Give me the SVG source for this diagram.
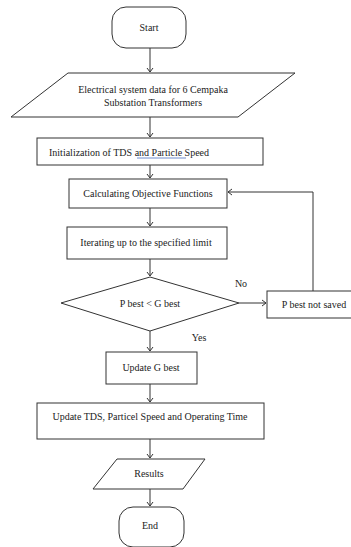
<svg xmlns="http://www.w3.org/2000/svg" width="351" height="547" viewBox="0 0 351 547">
<defs>
<marker id="arr" markerWidth="8" markerHeight="8" refX="4" refY="4" orient="auto" markerUnits="userSpaceOnUse">
<path d="M0,1 L4,4 L0,7" fill="none" stroke="#333" stroke-width="1"/>
</marker>
<style>
.s{fill:#fff;stroke:#333;stroke-width:1}
.t{font-family:"Liberation Serif","Times New Roman",serif;font-size:10px;fill:#222;text-anchor:middle}
.c{fill:none;stroke:#333;stroke-width:1;marker-end:url(#arr)}
.l{fill:none;stroke:#333;stroke-width:1}
</style>
</defs>
<rect width="351" height="547" fill="#fff"/>
<g id="connectors">
<line class="c" x1="150" y1="48" x2="150" y2="72"/>
<line class="c" x1="150" y1="117" x2="150" y2="137"/>
<line class="c" x1="150" y1="165" x2="150" y2="178"/>
<line class="c" x1="150" y1="208" x2="150" y2="226"/>
<line class="c" x1="150" y1="259" x2="150" y2="276"/>
<line class="c" x1="239" y1="303" x2="266" y2="303"/>
<polyline class="c" points="313,291 313,192 228,192"/>
<line class="c" x1="150" y1="331" x2="150" y2="351"/>
<line class="c" x1="150" y1="384" x2="150" y2="402"/>
<line class="c" x1="150" y1="439" x2="150" y2="458"/>
<line class="c" x1="150" y1="489" x2="150" y2="506"/>
<text class="t" x="241" y="287">No</text>
<text class="t" x="199" y="341">Yes</text>
</g>
<g id="start">
<rect class="s" x="112" y="7" width="74" height="41" rx="14" ry="14"/>
<text class="t" x="149" y="31">Start</text>
</g>
<g id="data">
<polygon class="s" points="68,73 295,73 238,117 11,117"/>
<text class="t" x="153" y="93">Electrical system data for 6 Cempaka</text>
<text class="t" x="153" y="106">Substation Transformers</text>
</g>
<g id="init">
<rect class="s" x="37" y="138" width="226" height="27"/>
<text class="t" x="49" y="156" style="text-anchor:start">Initialization of TDS and  Particle  Speed</text>
<line x1="137" y1="158" x2="186" y2="158" stroke="#4a6fc0" stroke-width="0.8"/>
</g>
<g id="calc">
<rect class="s" x="69" y="179" width="158" height="29"/>
<text class="t" x="148" y="197">Calculating Objective Functions</text>
</g>
<g id="iter">
<rect class="s" x="67" y="227" width="160" height="32"/>
<text class="t" x="146" y="246">Iterating up to the specified limit</text>
</g>
<g id="decision">
<polygon class="s" points="150,277 239,303 150,331 61,303"/>
<text class="t" x="150" y="307">P best &lt; G best</text>
</g>
<g id="notsaved">
<rect class="s" x="267" y="291" width="88" height="27"/>
<text class="t" x="314" y="308">P best not saved</text>
</g>
<g id="updateg">
<rect class="s" x="106" y="352" width="91" height="32"/>
<text class="t" x="151" y="371">Update G best</text>
</g>
<g id="updatetds">
<rect class="s" x="37" y="403" width="227" height="36"/>
<text class="t" x="150" y="420">Update TDS, Particel Speed and Operating Time</text>
</g>
<g id="results">
<polygon class="s" points="117,459 205,459 183,489 93,489"/>
<text class="t" x="149" y="477">Results</text>
</g>
<g id="end">
<rect class="s" x="119" y="507" width="65" height="40" rx="14" ry="14"/>
<text class="t" x="150" y="529">End</text>
</g>
</svg>
